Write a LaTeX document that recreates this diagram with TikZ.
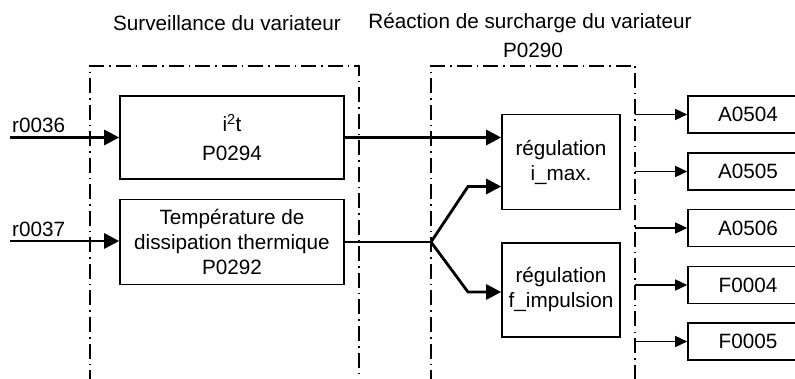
\documentclass[tikz,border=0pt]{standalone}
\usepackage{fontspec}
\setmainfont{Liberation Sans}
\usetikzlibrary{arrows.meta}
\begin{document}
\begin{tikzpicture}[x=1pt,y=-1pt,
  every node/.style={font=\fontsize{20.7}{25}\selectfont, inner sep=0pt},
  blk/.style={draw, line width=1.6pt, align=center},
  outbox/.style={draw, line width=1.6pt, minimum width=120pt, minimum height=37pt},
  frame/.style={line width=1.5pt, dash pattern=on 15pt off 5pt on 1.5pt off 5pt},
  mainline/.style={line width=2.8pt, -{Triangle[length=15pt,width=15pt]}},
  plainline/.style={line width=2.8pt},
  outline/.style={line width=1.5pt, -{Triangle[length=12pt,width=11pt]}}
]
\useasboundingbox (0,0) rectangle (795,379);
\clip (0,0) rectangle (795,379);

% titles
\node (t1) at (227,23) {Surveillance du variateur};
\node (t2) at (530,23) {Réaction de surcharge du variateur};
\node (t3) at (533,50) {P0290};

% dash-dot frames
\draw[frame] (90,385) -- (90,66) -- (359,66) -- (359,385);
\draw[frame] (431,385) -- (431,66) -- (635,66) -- (635,385);

% blocks
\node[blk, minimum width=224pt, minimum height=83pt] (i2t) at (232,137.5)
  {i\textsuperscript{2}t\\[4pt]P0294};
\node[blk, minimum width=224pt, minimum height=85pt] (temp) at (232,242)
  {Température de\\dissipation thermique\\P0292};
\node[blk, minimum width=118pt, minimum height=95pt] (reg1) at (561,162)
  {régulation\\i\_max.};
\node[blk, minimum width=118pt, minimum height=94pt] (reg2) at (561,290)
  {régulation\\f\_impulsion};

% output boxes
\node[outbox] (a504) at (748,114.5) {A0504};
\node[outbox] (a505) at (748,171.5) {A0505};
\node[outbox] (a506) at (748,228) {A0506};
\node[outbox] (f004) at (748,285) {F0004};
\node[outbox] (f005) at (748,341.5) {F0005};

% inputs
\coordinate (in1) at (10,137.5);
\coordinate (in2) at (10,241);
\node[anchor=south west] (l1) at (12,133) {r0036};
\node[anchor=south west] (l2) at (12,236.5) {r0037};
\draw[mainline] (in1) -- (i2t.west);
\draw[mainline] (in2) -- (in2 -| temp.west);

% i2t -> reg1
\draw[mainline] (i2t.east) -- (i2t.east -| reg1.west);

% temperature branch
\coordinate (br) at (431,242);
\coordinate (up) at (468,186.5);
\coordinate (dn) at (468,292);
\draw[plainline] (temp.east) -- (br);
\draw[mainline] (br) -- (up) -- (up -| reg1.west);
\draw[mainline] (br) -- (dn) -- (dn -| reg2.west);

% outputs
\coordinate (o1) at (635,114.5);
\coordinate (o2) at (635,171.5);
\coordinate (o3) at (635,228);
\coordinate (o4) at (635,285);
\coordinate (o5) at (635,341.5);
\draw[outline] (o1) -- (a504.west);
\draw[outline] (o2) -- (a505.west);
\draw[outline] (o3) -- (a506.west);
\draw[outline] (o4) -- (f004.west);
\draw[outline] (o5) -- (f005.west);
\end{tikzpicture}
\end{document}
